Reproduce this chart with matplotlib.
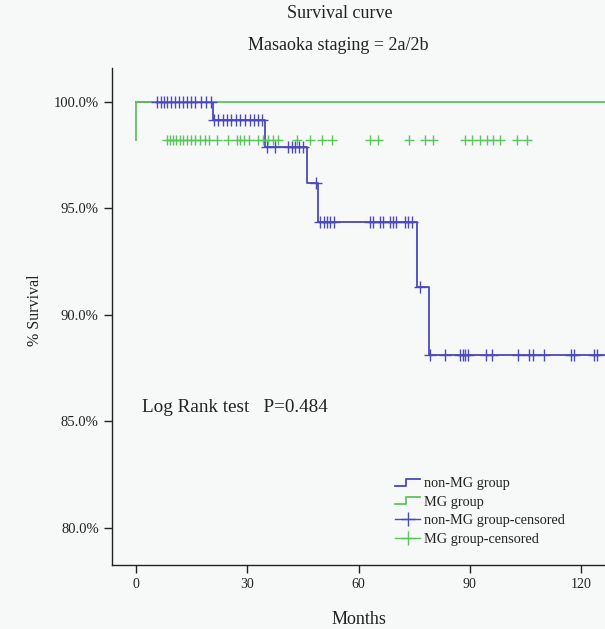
import matplotlib
matplotlib.use("Agg")
import matplotlib.pyplot as plt
from matplotlib.lines import Line2D
from matplotlib.legend_handler import HandlerBase

plt.rcParams['font.family'] = ['Liberation Serif', 'DejaVu Serif']

# ---- data ----
nonmg_step_times = [0, 20.8, 34.8, 46.0, 49.2, 75.9, 79.1, 130]
nonmg_step_surv = [100.0, 99.13, 97.85, 96.16, 94.36, 91.3, 88.08, 88.08]

mg_step_times = [0, 0, 130]
mg_step_surv = [98.2, 100.0, 100.0]

nonmg_cens_times = [5.6, 6.6, 7.5, 8.4, 9.4, 10.5, 11.5, 12.6, 13.7, 14.8, 16.0, 17.4, 18.8, 20.2,
                    21.0, 22.2, 23.4, 24.5, 25.7, 26.9, 28.1, 29.5, 30.6, 31.8, 32.9, 34.0,
                    35.3, 37.4, 41.0, 42.0, 43.0, 44.0, 45.0,
                    48.5,
                    49.7, 50.6, 51.5, 52.4, 53.3, 63.1, 63.9, 65.8, 66.6, 68.5, 69.3, 70.1, 72.6, 73.4, 74.5,
                    76.5,
                    79.3, 83.4, 87.4, 88.1, 88.8, 89.5, 94.3, 96.0, 103.0, 106.1, 107.2, 110.1,
                    117.3, 118.2, 123.4, 124.3]
nonmg_cens_surv = ([100.0] * 14 + [99.13] * 12 + [97.85] * 7 + [96.16] * 1 +
                   [94.36] * 15 + [91.3] * 1 + [88.08] * 16)

mg_cens_times = [8.3, 9.2, 10.0, 10.9, 11.8, 12.7, 13.6, 14.8, 16.0, 17.3, 18.5, 19.8,
                 21.8, 24.9, 27.2, 28.1, 29.1, 30.5, 32.9, 34.3, 35.6, 37.0, 38.4,
                 43.4, 46.9, 50.1, 52.9, 63.1, 65.3, 73.5, 78.0, 80.2,
                 88.8, 90.6, 92.8, 94.6, 96.4, 98.2, 102.7, 105.4]
mg_cens_surv = [98.2] * len(mg_cens_times)

x_ticks = [0, 30, 60, 90, 120]
y_ticks = [80, 85, 90, 95, 100]
y_tick_labels = ['80.0%', '85.0%', '90.0%', '95.0%', '100.0%']

title1 = "Survival curve"
title2 = "Masaoka staging = 2a/2b"
annot = "Log Rank test   P=0.484"
legend_labels = ["non-MG group", "MG group", "non-MG group-censored", "MG group-censored"]

BLUE = "#4a4ab8"
GREEN = "#5cc45c"
BG = "#f7f8f8"
TXT = "#222222"

fig = plt.figure(figsize=(6.05, 6.29), dpi=100, facecolor=BG)
ax = fig.add_axes([112 / 605, 1 - 565 / 629, 1 - 112 / 605, (565 - 68) / 629])
ax.set_facecolor(BG)

ax.plot(nonmg_step_times, nonmg_step_surv, drawstyle='steps-post', color=BLUE, lw=1.3, zorder=2)
ax.plot(mg_step_times, mg_step_surv, color=GREEN, lw=1.3, zorder=3)
ax.plot(nonmg_cens_times, nonmg_cens_surv, ls='none', marker='+', ms=8, mew=1.0, color=BLUE, zorder=4)
ax.plot(mg_cens_times, mg_cens_surv, ls='none', marker='+', ms=7, mew=1.0, color=GREEN, zorder=4)

ax.set_xlim(-6.5, 126.5)
ax.set_ylim(78.24, 101.58)
ax.set_xticks(x_ticks)
ax.set_yticks(y_ticks)
ax.set_yticklabels(y_tick_labels)
ax.tick_params(axis='y', direction='out', length=6, width=1.0, labelsize=10.5, colors=TXT)
ax.tick_params(axis='x', direction='out', length=6, width=1.0, labelsize=10, colors=TXT)
for s in ['top', 'right']:
    ax.spines[s].set_visible(False)
for s in ['left', 'bottom']:
    ax.spines[s].set_linewidth(1.0)
    ax.spines[s].set_color(TXT)

ax.set_xlabel("Months", fontsize=13, color=TXT, labelpad=14)
ax.set_ylabel("% Survival", fontsize=11.5, color=TXT)
ax.yaxis.set_label_coords(-(112 - 43) / (605 - 112), (565 - 310) / (565 - 68))

fig.text(340 / 605, 1 - 13 / 629, title1, ha='center', va='center', fontsize=13, color=TXT)
fig.text(338 / 605, 1 - 46 / 629, title2, ha='center', va='center', fontsize=13, color=TXT)
ax.text(1.6, 85.65, annot, fontsize=13.8, color=TXT, ha='left', va='center')


class StepHandler(HandlerBase):
    def create_artists(self, legend, orig_handle, xdescent, ydescent, width, height, fontsize, trans):
        x0, x1 = -xdescent, -xdescent + width
        ylo, yhi = -ydescent + 0.15 * height, -ydescent + 0.85 * height
        xm = x0 + 0.45 * width
        line = Line2D([x0, xm, xm, x1], [ylo, ylo, yhi, yhi], color=orig_handle.get_color(),
                      lw=orig_handle.get_linewidth(), transform=trans)
        return [line]


h1 = Line2D([], [], color=BLUE, lw=1.3)
h2 = Line2D([], [], color=GREEN, lw=1.3)
h3 = Line2D([], [], color=BLUE, lw=1.0, marker='+', ms=10, mew=1.0)
h4 = Line2D([], [], color=GREEN, lw=1.0, marker='+', ms=10, mew=1.0)
leg = ax.legend([h1, h2, h3, h4], legend_labels,
                handler_map={h1: StepHandler(), h2: StepHandler()},
                loc='upper left', bbox_to_anchor=((395 - 112) / (605 - 112), 1 - (477 - 68) / (565 - 68)),
                frameon=False, fontsize=10.3, handlelength=1.75, handletextpad=0.3,
                labelspacing=0.4, borderaxespad=0, borderpad=0)
for t in leg.get_texts():
    t.set_color(TXT)

fig.savefig("out.png", dpi=100, facecolor=BG)
